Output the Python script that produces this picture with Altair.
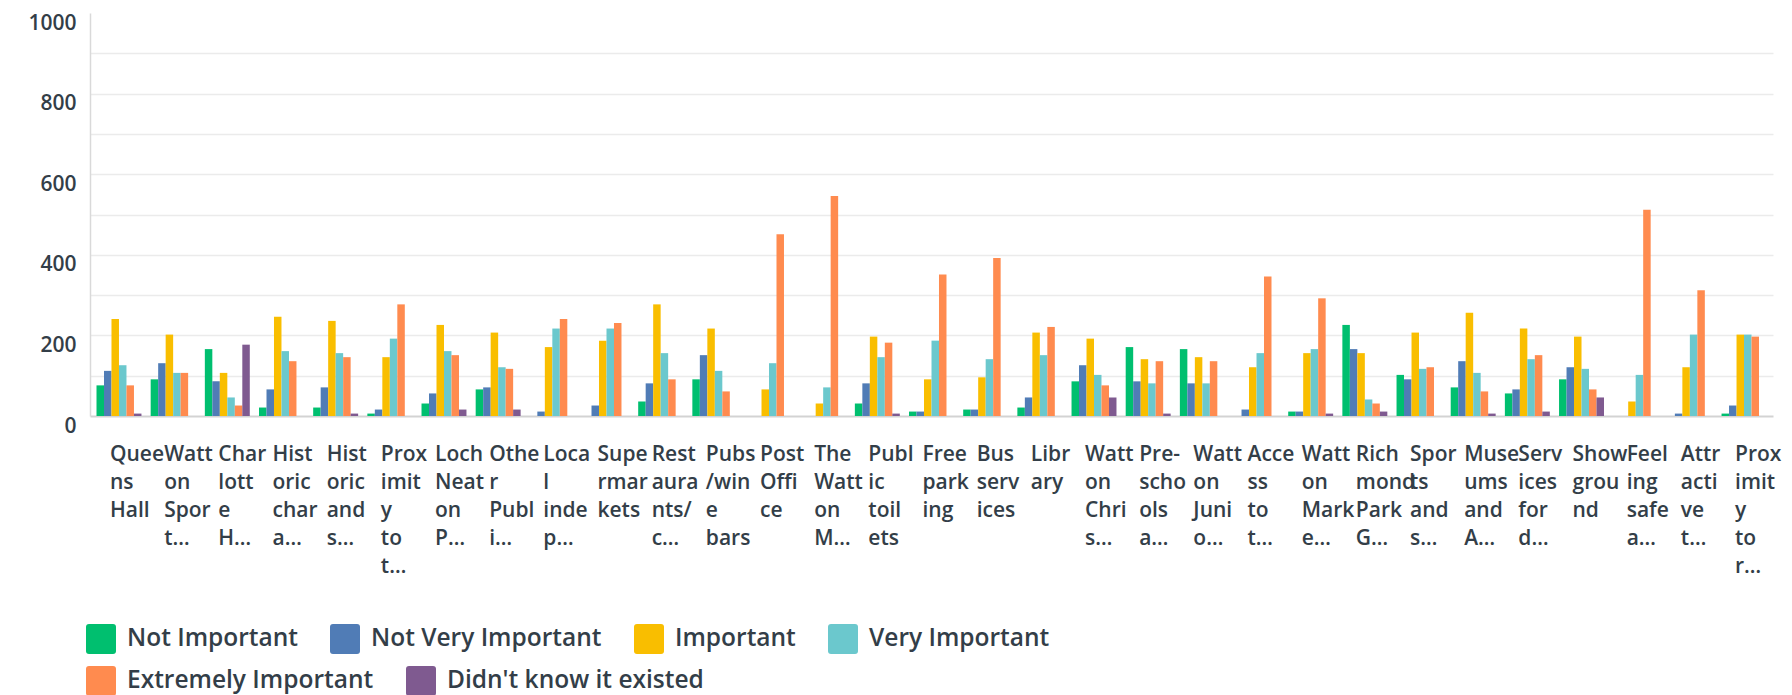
import altair as alt
import pandas as pd

# Category labels as displayed (line breaks marked with "|")
categories = [
    "Quee|ns|Hall", "Watt|on|Spor|t…", "Char|lott|e|H…", "Hist|oric|char|a…",
    "Hist|oric|and|s…", "Prox|imit|y|to|t…", "Loch|Neat|on|P…", "Othe|r|Publ|i…",
    "Loca|l|inde|p…", "Supe|rmar|kets", "Rest|aura|nts/|c…", "Pubs|/win|e|bars",
    "Post|Offi|ce", "The|Watt|on|M…", "Publ|ic|toil|ets", "Free|park|ing",
    "Bus|serv|ices", "Libr|ary", "Watt|on|Chri|s…", "Pre-|scho|ols|a…",
    "Watt|on|Juni|o…", "Acce|ss|to|t…", "Watt|on|Mark|e…", "Rich|mond|Park|G…",
    "Spor|ts|and|s…", "Muse|ums|and|A…", "Serv|ices|for|d…", "Show|grou|nd",
    "Feel|ing|safe|a…", "Attr|acti|ve|t…", "Prox|imit|y|to|r…",
]

series = ["Not Important", "Not Very Important", "Important",
          "Very Important", "Extremely Important", "Didn't know it existed"]
colors = ["#00bf6f", "#507cb6", "#f9be00", "#6bc8cd", "#ff8b4f", "#7f5a90"]

not_important = [76, 91, 166, 21, 21, 6, 31, 66, 0, 0, 36, 91, 0, 0, 31, 11,
                 16, 21, 86, 171, 166, 0, 11, 226, 102, 71, 56, 91, 0, 0, 6]
not_very_important = [112, 131, 86, 66, 71, 16, 56, 71, 11, 26, 81, 151, 0, 0, 81, 11,
                      16, 46, 126, 86, 81, 16, 11, 166, 91, 136, 66, 121, 0, 6, 26]
important = [241, 202, 107, 246, 236, 146, 226, 207, 171, 187, 277, 217, 66, 31, 197, 91,
             96, 207, 192, 141, 146, 121, 156, 156, 207, 256, 217, 197, 36, 121, 202]
very_important = [126, 107, 46, 161, 156, 192, 161, 121, 217, 217, 156, 112, 131, 71, 146, 187,
                  141, 151, 102, 81, 81, 156, 166, 41, 117, 107, 141, 117, 102, 202, 202]
extremely_important = [76, 107, 26, 136, 146, 277, 151, 117, 241, 231, 91, 61, 451, 546, 182, 351,
                       392, 221, 76, 136, 136, 346, 292, 31, 121, 61, 151, 66, 512, 312, 197]
didnt_know = [6, 0, 177, 0, 6, 0, 16, 16, 0, 0, 0, 0, 0, 0, 6, 0,
              0, 0, 46, 6, 0, 0, 6, 11, 0, 6, 11, 46, 0, 0, 0]

y_ticks = list(range(0, 1001, 100))

all_values = [not_important, not_very_important, important,
              very_important, extremely_important, didnt_know]
rows = []
for s, vals in zip(series, all_values):
    for c, v in zip(categories, vals):
        rows.append({"category": c, "series": s, "value": v})
df = pd.DataFrame(rows)

FONT = "Open Sans"
TEXT = "#333e48"
ROUNDED = ("M-0.8,-1L0.8,-1Q1,-1 1,-0.8L1,0.8Q1,1 0.8,1L-0.8,1"
           "Q-1,1 -1,0.8L-1,-0.8Q-1,-1 -0.8,-1Z")

x_enc = alt.X(
    "category:N", sort=categories,
    scale=alt.Scale(paddingInner=0.17, paddingOuter=0.12),
    axis=alt.Axis(
        title=None, labelAngle=0, labelAlign="left", labelBaseline="top",
        labelOffset=-9, labelPadding=27,
        labelExpr="split(datum.label, '|')", labelLineHeight=28,
        labelFontSize=21, labelFont=FONT, labelFontWeight=600,
        labelColor=TEXT, labelOverlap=False, ticks=False,
        domainColor="#d3d3d3", domainWidth=2, grid=False,
    ),
)
xoff_enc = alt.XOffset("series:N", sort=series,
                       scale=alt.Scale(domain=series, paddingInner=0, paddingOuter=0))
y_enc = alt.Y(
    "value:Q",
    scale=alt.Scale(domain=[0, 1000], nice=False),
    axis=alt.Axis(
        title=None, values=y_ticks, format="d",
        labelExpr="datum.value % 200 == 0 ? datum.label : ''",
        labelFontSize=21, labelFont=FONT, labelFontWeight=600,
        labelColor=TEXT, labelPadding=14, labelOffset=10,
        labelOverlap=False, ticks=False,
        domainColor="#d9d9d9", domainWidth=1.5,
        gridColor="#ebebeb", gridWidth=1.5,
        gridOpacity={"condition": {"test": "datum.value == 0 || datum.value == 1000",
                                   "value": 0}, "value": 1},
    ),
)


def legend_at(y):
    return alt.Legend(
        title=None, orient="none", legendX=-4, legendY=y,
        direction="horizontal",
        symbolType=ROUNDED, symbolSize=900, symbolStrokeWidth=0,
        labelFontSize=24.5, labelFont=FONT, labelFontWeight=600,
        labelColor=TEXT, labelOffset=11, columnPadding=32,
        padding=0, labelLimit=500,
    )


row1, row2 = series[:4], series[4:]
base = alt.Chart(df).mark_bar()

layer1 = base.transform_filter(
    alt.FieldOneOfPredicate(field="series", oneOf=row1)
).encode(
    x=x_enc, xOffset=xoff_enc, y=y_enc,
    color=alt.Color("series:N", sort=row1,
                    scale=alt.Scale(domain=row1, range=colors[:4]),
                    legend=legend_at(611)),
)
layer2 = base.transform_filter(
    alt.FieldOneOfPredicate(field="series", oneOf=row2)
).encode(
    x=x_enc, xOffset=xoff_enc, y=y_enc,
    color=alt.Color("series:N", sort=row2,
                    scale=alt.Scale(domain=row2, range=colors[4:]),
                    legend=legend_at(653)),
)

chart = alt.layer(layer1, layer2).resolve_scale(color="independent").properties(
    width=1683, height=403,
    padding={"left": 82, "top": 5, "right": 10, "bottom": 284},
    autosize="none",
).configure_view(stroke=None)

chart.save("out.html", embed_options={"renderer": "svg", "actions": False})
